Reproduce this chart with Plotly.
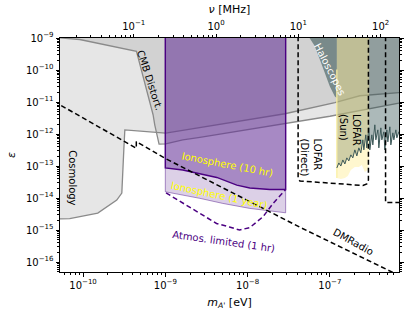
import plotly.graph_objects as go
import numpy as np

# ---------------- data (mass in eV, kinetic mixing epsilon) ----------------
cosmo_m = [4.5e-11, 4.5e-11, 6.89e-11, 1.51e-10, 2.57e-10, 2.96e-10, 3.13e-10, 3.22e-10,
           1.01e-9, 2.63e-9, 2.84e-8, 1.149e-7, 2.31e-7, 6.89e-7, 7.5e-7, 7.5e-7]
cosmo_eps = [2e-9, 2.2e-15, 2.28e-15, 3.39e-15, 8.65e-15, 1.43e-14, 3.2e-13, 1.35e-12,
             1.07e-12, 1.62e-12, 4.3e-12, 9.5e-12, 1.57e-11, 1.96e-11, 1.96e-11, 2e-9]

cmb_m = [4.5e-11, 9.12e-11, 4.46e-10, 7.1e-10, 7.44e-10, 8.39e-10, 1.01e-9, 1.63e-9,
         2.63e-9, 2.84e-8, 1.0e-7, 6.89e-7, 7.5e-7, 7.5e-7, 4.5e-11]
cmb_eps = [1.05e-9, 8.97e-10, 3.85e-10, 4.0e-12, 1.94e-12, 4.82e-13, 4.93e-13, 6.58e-13,
           7.88e-13, 2.09e-12, 3.59e-12, 9.16e-12, 1.0e-11, 2e-9, 2e-9]

halo_m = [5.3e-8, 5.7e-8, 6.57e-8, 7.55e-8, 8.68e-8, 9.99e-8, 1.149e-7, 1.215e-7, 1.215e-7]
halo_eps = [1.3e-9, 1.0e-9, 5.53e-10, 2.12e-10, 8.1e-11, 3.08e-11, 1.5e-11, 1.33e-11, 1.3e-9]

noise_m = [1.215e-7, 1.285e-7, 1.359e-7, 1.437e-7, 1.52e-7, 1.607e-7, 1.699e-7, 1.797e-7,
           1.901e-7, 2.01e-7, 2.126e-7, 2.248e-7, 2.378e-7, 2.514e-7, 2.586e-7, 2.734e-7,
           2.812e-7, 2.974e-7, 3.058e-7, 3.236e-7, 3.327e-7, 3.518e-7, 3.619e-7, 3.828e-7,
           3.936e-7, 4.163e-7, 4.281e-7, 4.527e-7, 4.656e-7, 4.924e-7, 5.064e-7, 5.355e-7,
           5.508e-7, 5.825e-7, 5.99e-7, 6.334e-7, 6.516e-7, 6.891e-7, 7.5e-7]
noise_eps = [8.7e-14, 1.25e-13, 1.0e-13, 1.55e-13, 1.16e-13, 1.8e-13, 1.45e-13, 2.23e-13,
             1.8e-13, 3.2e-13, 2.07e-13, 3.69e-13, 2.58e-13, 6.58e-13, 3.2e-13, 9.44e-13,
             3.69e-13, 1.56e-12, 3.2e-13, 9.44e-13, 4.58e-13, 1.94e-12, 6.58e-13, 1.35e-12,
             3.69e-13, 1.56e-12, 6.58e-13, 1.17e-12, 3.2e-13, 1.35e-12, 5.69e-13, 1.68e-12,
             4.58e-13, 1.09e-12, 6.58e-13, 1.35e-12, 7.61e-13, 1.17e-12, 9.4e-13]

sun_m = [1.215e-7, 1.359e-7, 1.52e-7, 1.653e-7, 1.797e-7, 2.01e-7, 2.248e-7, 2.445e-7,
         2.66e-7, 2.892e-7, 3.0e-7]
sun_eps = [4.23e-14, 3.94e-14, 4.23e-14, 4.9e-14, 7.55e-14, 9.4e-14, 9.4e-14, 1.08e-13,
           6.5e-14, 7.55e-14, 1.55e-13]
sun_spike_m = [1.215e-7, 1.215e-7]
sun_spike_eps = [1.03e-10, 4.23e-14]

iono10_m = [1.0e-9, 1.0e-9, 1.63e-9, 2.63e-9, 4.22e-9, 7.39e-9, 1.064e-8, 1.862e-8, 2.9e-8, 2.9e-8]
iono10_eps = [2e-9, 8.71e-14, 7.55e-14, 5.65e-14, 4.4e-14, 2.54e-14, 2.06e-14, 1.85e-14, 1.85e-14, 2e-9]

iono1y_m = [1.0e-9, 1.0e-9, 2.63e-9, 5.0e-9, 1.064e-8, 2.9e-8, 2.9e-8]
iono1y_eps = [2e-9, 1.57e-14, 9.8e-15, 6.8e-15, 4.75e-15, 3.46e-15, 2e-9]

atmos_m = [1.02e-9, 1.64e-9, 2.62e-9, 4.19e-9, 6.0e-9, 8.0e-9, 1.064e-8, 1.54e-8,
           2.04e-8, 2.7e-8, 2.9e-8]
atmos_eps = [1.45e-14, 6.82e-15, 3.31e-15, 1.61e-15, 1.25e-15, 1.0e-15, 1.2e-15, 2.6e-15,
             6.82e-15, 1.57e-14, 1.85e-14]

dmr_m = [4.47e-11, 4.44e-10, 4.44e-10, 9.84e-10, 4.32e-8, 5.83e-7, 7.1e-7]
dmr_eps = [1.03e-11, 3.61e-13, 5.82e-13, 1.76e-13, 1.23e-15, 4.79e-17, 3.7e-17]

lofar_m = [4.11e-8, 4.11e-8, 4.32e-8, 1.0e-7, 2.52e-7, 2.81e-7, 2.94e-7, 2.94e-7]
lofar_eps = [2e-9, 4.24e-14, 3.41e-14, 2.89e-14, 2.47e-14, 2.75e-14, 3.66e-14, 2e-9]

lofar2_m = [4.75e-7, 4.75e-7, 7.5e-7]
lofar2_eps = [2e-9, 7.23e-15, 7.23e-15]

x_ticks = [1e-10, 1e-9, 1e-8, 1e-7]
x_ticktext = ["10<sup>−10</sup>", "10<sup>−9</sup>", "10<sup>−8</sup>", "10<sup>−7</sup>"]
y_ticks = [1e-16, 1e-15, 1e-14, 1e-13, 1e-12, 1e-11, 1e-10, 1e-9]
y_ticktext = ["10<sup>−16</sup>", "10<sup>−15</sup>", "10<sup>−14</sup>", "10<sup>−13</sup>",
              "10<sup>−12</sup>", "10<sup>−11</sup>", "10<sup>−10</sup>", "10<sup>−9</sup>"]
nu_ticks = [0.1, 1, 10, 100]
nu_ticktext = ["10<sup>−1</sup>", "10<sup>0</sup>", "10<sup>1</sup>", "10<sup>2</sup>"]

EV_TO_MHZ = 2.418e8

FONT = "DejaVu Sans"
GREY_EDGE = "rgb(138,138,138)"

fig = go.Figure()

def poly(xs, ys, fill, line_color=None, width=0.0):
    fig.add_trace(go.Scatter(
        x=xs, y=ys, mode="lines", fill="toself", fillcolor=fill,
        line=dict(color=line_color or "rgba(0,0,0,0)", width=width),
        hoverinfo="skip", showlegend=False))

def curve(xs, ys, color, width=1.5, dash=None):
    fig.add_trace(go.Scatter(
        x=xs, y=ys, mode="lines",
        line=dict(color=color, width=width, dash=dash),
        hoverinfo="skip", showlegend=False))

# grey regions
poly(cosmo_m, cosmo_eps, "rgba(128,128,128,0.2)", GREY_EDGE, 1.3)
poly(cmb_m, cmb_eps, "rgba(128,128,128,0.2)", GREY_EDGE, 1.3)

# haloscopes / high-mass slate region
poly(halo_m, halo_eps, "rgba(47,79,79,0.55)")
poly([1.215e-7] + noise_m + [7.5e-7], [2e-9] + noise_eps + [2e-9], "rgba(47,79,79,0.4)")

# LOFAR (Sun)
poly([1.215e-7] + sun_m + [3.0e-7], [2e-9] + sun_eps + [2e-9], "rgba(255,236,140,0.42)")
curve(sun_spike_m, sun_spike_eps, "rgb(250,240,160)", 1.2)
curve(noise_m, noise_eps, "rgb(60,88,88)", 1.0)

# ionosphere regions
poly(iono1y_m, iono1y_eps, "rgba(102,51,153,0.23)", "rgba(102,51,153,0.55)", 1.0)
poly(iono10_m, iono10_eps, "rgba(102,51,153,0.45)", "rgb(75,0,130)", 1.4)

# dashed limits
curve(atmos_m, atmos_eps, "rgb(75,0,130)", 1.5, "5px,3px")
curve(dmr_m, dmr_eps, "black", 1.5, "5px,3px")
curve(lofar_m, lofar_eps, "black", 1.5, "5px,3px")
curve(lofar2_m, lofar2_eps, "black", 1.5, "5px,3px")

# invisible trace to activate the top (frequency) axis
fig.add_trace(go.Scatter(x=[m * EV_TO_MHZ for m in [1e-9, 1e-8]], y=[1e-12, 1e-12],
                         xaxis="x2", mode="markers", marker=dict(opacity=0),
                         hoverinfo="skip", showlegend=False))

def ann(text, lx, ly, angle, color="black", size=10, align="center"):
    fig.add_annotation(x=lx, y=ly, xref="x", yref="y", text=text, showarrow=False,
                       textangle=angle, font=dict(family=FONT, size=size, color=color),
                       xanchor="center", yanchor="middle", align=align)

ann("CMB Distort.", -9.188, -10.332, 72)
ann("Cosmology", -10.137, -13.373, 90)
ann("Haloscopes", -7.0, -9.99, 63, "white")
ann("LOFAR<br>(Sun)", -6.763, -11.884, 90, align="left")
ann("LOFAR<br>(Direct)", -7.232, -12.730, 90, align="left")
ann("Ionosphere (10 hr)", -8.249, -12.944, 11, "yellow")
ann("Ionosphere (1 year)", -8.338, -13.906, 12, "yellow")
ann("Atmos. limited (1 hr)", -8.289, -15.348, 8, "rgb(75,0,130)")
ann("DMRadio", -6.725, -15.370, 29)

def minor_vals(lo, hi):
    return [k * 10.0 ** e for e in range(lo, hi) for k in range(2, 10)]

axis_common = dict(
    showgrid=False, zeroline=False, showline=True, linecolor="black", linewidth=1,
    ticks="outside", ticklen=3.5, tickwidth=0.9, tickcolor="black", automargin=False,
    tickfont=dict(family=FONT, size=10, color="black"), tickmode="array",
)

fig.update_layout(
    width=407, height=313,
    margin=dict(l=60, r=8, t=38, b=41),
    paper_bgcolor="white", plot_bgcolor="white",
    font=dict(family=FONT, size=10, color="black"),
    xaxis=dict(type="log", range=[-10.28, -6.16], tickvals=x_ticks, ticktext=x_ticktext,
               mirror=True,
               minor=dict(ticks="outside", ticklen=2, tickwidth=0.6, tickcolor="black",
                          tickmode="array", tickvals=minor_vals(-11, -5)),
               title=dict(text="<i>m</i><sub><i>A'</i></sub> [eV]",
                          font=dict(family=FONT, size=11), standoff=8),
               **axis_common),
    xaxis2=dict(type="log", overlaying="x", side="top",
                range=[-10.28 + np.log10(EV_TO_MHZ), -6.16 + np.log10(EV_TO_MHZ)],
                tickvals=nu_ticks, ticktext=nu_ticktext,
                minor=dict(ticks="outside", ticklen=2, tickwidth=0.6, tickcolor="black",
                           tickmode="array", tickvals=minor_vals(-3, 4)),
                title=dict(text="<i>ν</i> [MHz]", font=dict(family=FONT, size=11), standoff=3),
                **axis_common),
    yaxis=dict(type="log", range=[-16.31, -9.0], tickvals=y_ticks, ticktext=y_ticktext,
               mirror="ticks",
               minor=dict(ticks="outside", ticklen=2, tickwidth=0.6, tickcolor="black",
                          tickmode="array", tickvals=minor_vals(-17, -8)),
               title=dict(text="<i>ε</i>", font=dict(family=FONT, size=11), standoff=8),
               **axis_common),
)

# remove the browser's default page margin so the figure sits at the window corner
fig.write_html("out.html", config={"displayModeBar": False},
               post_script="document.body.style.margin='0px';")
